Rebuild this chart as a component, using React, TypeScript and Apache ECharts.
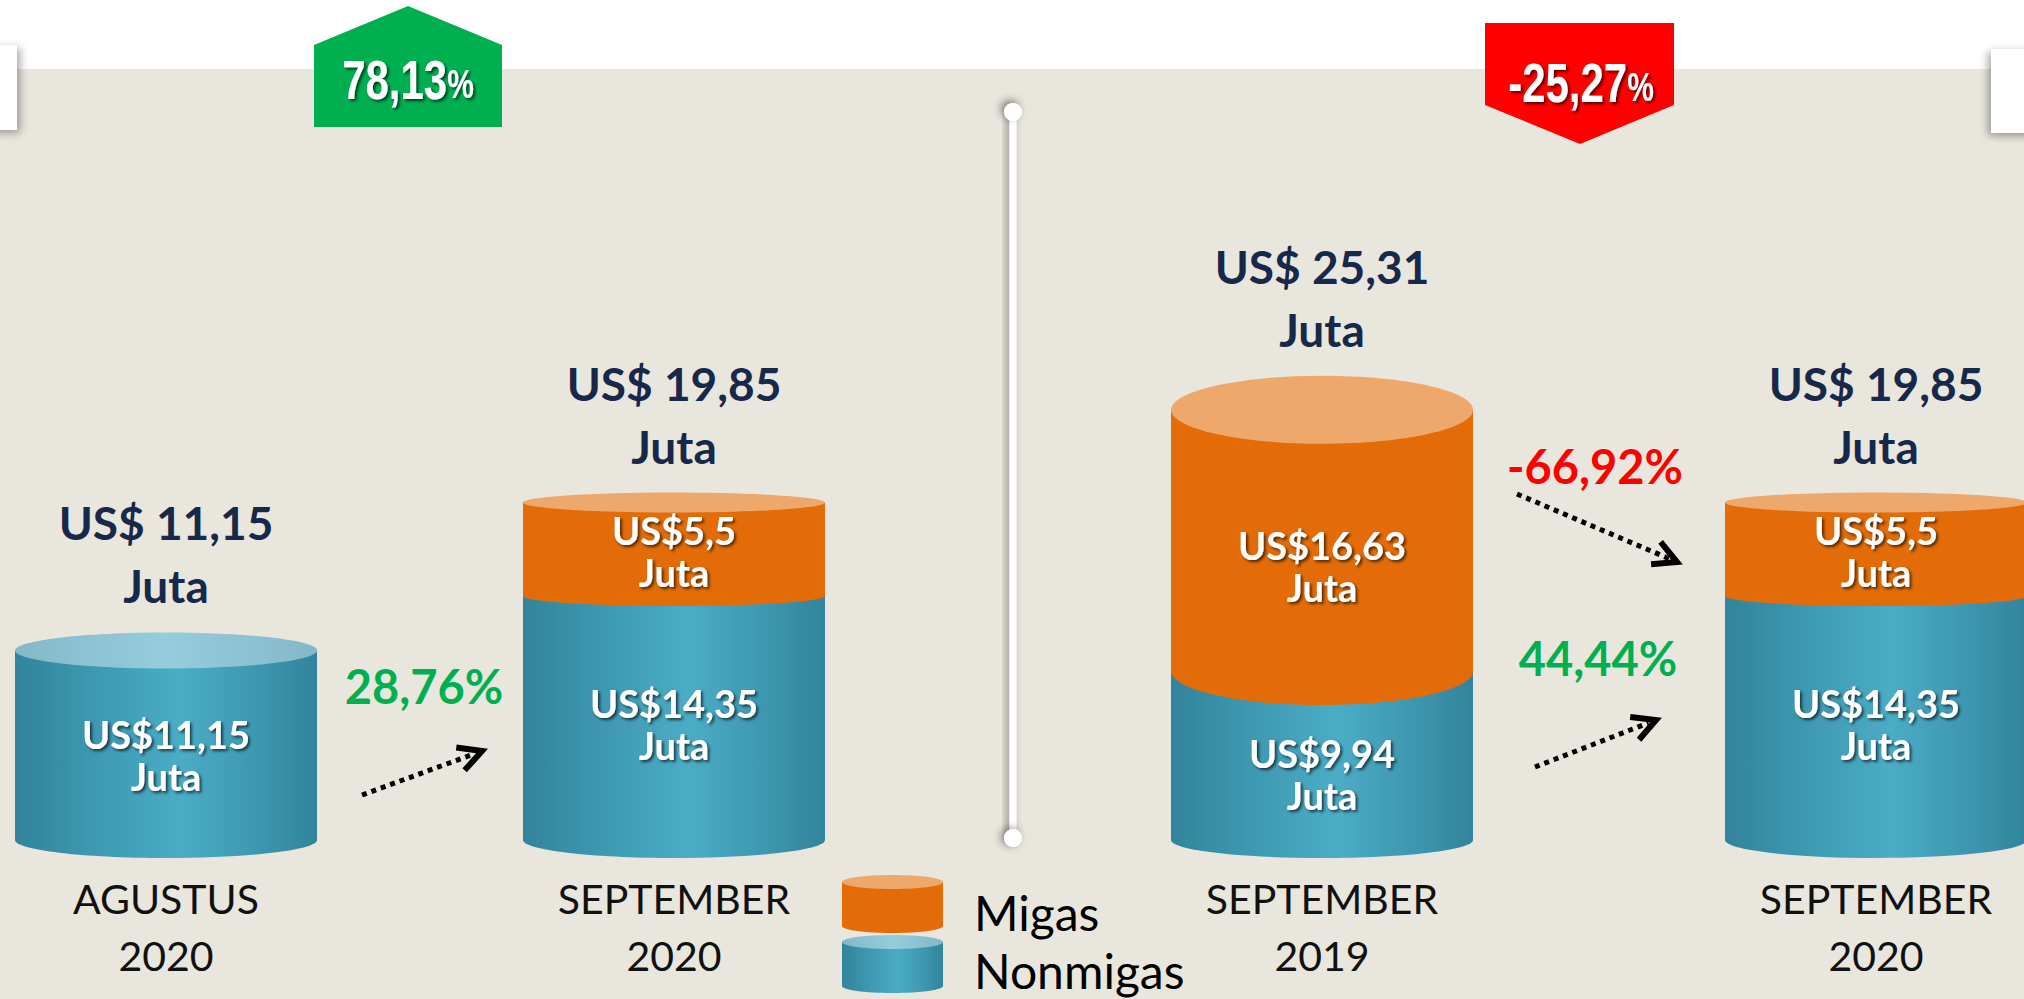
import React, { useEffect, useRef } from 'react';
import * as echarts from 'echarts';

// ---------- data ----------
const periods = ['AGUSTUS\n2020', 'SEPTEMBER\n2020', 'SEPTEMBER\n2019', 'SEPTEMBER\n2020'];
const nonmigas = [11.15, 14.35, 9.94, 14.35];
const migas = [0, 5.5, 16.63, 5.5];
const totals = [11.15, 19.85, 25.31, 19.85];
const headlineChanges = [78.13, -25.27];
const nonmigasChanges = [28.76, 44.44];
const migasChanges = [-66.92];
const legendNames = ['Migas', 'Nonmigas'];
const unit = 'Juta';

// ---------- styles ----------
const W = 2024;
const H = 999;
const R = 151;
const BASE_RY = 18;
const CAP_RY = [18, 10, 34, 10];
const BEIGE = '#E9E7DD';
const NAVY = '#17284A';
const GREEN = '#00B050';
const RED = '#FF0000';
const ORANGE = '#E36C09';
const ORANGE_TOP = '#EFA86C';
const FONT = 'Lato, "Open Sans", sans-serif';
const NARROW = '"Liberation Sans", Arial, sans-serif';

const fmt = (v: number) => String(v).replace('.', ',');

const blueGrad = () =>
  new echarts.graphic.LinearGradient(0, 0, 1, 0, [
    { offset: 0, color: '#31849B' },
    { offset: 0.25, color: '#3D97B0' },
    { offset: 0.55, color: '#4BACC6' },
    { offset: 0.8, color: '#3E97B0' },
    { offset: 1, color: '#31849B' },
  ]);
const blueTopGrad = () =>
  new echarts.graphic.LinearGradient(0, 0, 1, 0, [
    { offset: 0, color: '#84B8C8' },
    { offset: 0.5, color: '#95CDDD' },
    { offset: 1, color: '#84B8C8' },
  ]);

const whiteShadow = {
  textShadowColor: 'rgba(0,0,0,0.65)',
  textShadowBlur: 3,
  textShadowOffsetX: 2,
  textShadowOffsetY: 2,
};

function makeRender(offset: number) {
  return (params: any, api: any) => {
    const cat = api.value(0);
    const non = api.value(1);
    const tot = api.value(2);
    const i = offset + cat;
    const base = api.coord([cat, 0]);
    const mid = api.coord([cat, non]);
    const top = api.coord([cat, tot]);
    const cx = base[0];
    const ry = CAP_RY[i];
    const children: any[] = [];
    children.push({
      type: 'ellipse',
      shape: { cx, cy: base[1], rx: R, ry: BASE_RY },
      style: { fill: blueGrad() },
    });
    children.push({
      type: 'rect',
      shape: { x: cx - R, y: mid[1], width: 2 * R, height: base[1] - mid[1] },
      style: { fill: blueGrad() },
    });
    const hasMigas = migas[i] > 0;
    if (hasMigas) {
      children.push({
        type: 'rect',
        shape: { x: cx - R, y: top[1], width: 2 * R, height: mid[1] - top[1] },
        style: { fill: ORANGE },
      });
      children.push({
        type: 'ellipse',
        shape: { cx, cy: mid[1], rx: R, ry },
        style: { fill: ORANGE },
      });
      children.push({
        type: 'ellipse',
        shape: { cx, cy: top[1], rx: R, ry },
        style: { fill: ORANGE_TOP },
      });
    } else {
      children.push({
        type: 'ellipse',
        shape: { cx, cy: mid[1], rx: R, ry },
        style: { fill: blueTopGrad() },
      });
    }
    const innerFont = `bold 38px ${FONT}`;
    const blueCenter = (mid[1] + ry + base[1] + BASE_RY) / 2 - 8;
    children.push({
      type: 'text',
      x: cx,
      y: blueCenter,
      style: {
        text: `US$${fmt(nonmigas[i])}\n${unit}`,
        font: innerFont,
        fill: '#FFFFFF',
        lineHeight: 42,
        align: 'center',
        verticalAlign: 'middle',
        textAlign: 'center',
        textVerticalAlign: 'middle',
        ...whiteShadow,
      },
    });
    if (hasMigas) {
      const orCenter = (top[1] + ry + mid[1] + ry) / 2 - 8;
      children.push({
        type: 'text',
        x: cx,
        y: orCenter,
        style: {
          text: `US$${fmt(migas[i])}\n${unit}`,
          font: innerFont,
          fill: '#FFFFFF',
          lineHeight: 42,
          align: 'center',
          verticalAlign: 'middle',
          textAlign: 'center',
          textVerticalAlign: 'middle',
          ...whiteShadow,
        },
      });
    }
    children.push({
      type: 'text',
      x: cx,
      y: top[1] - ry - 78,
      style: {
        text: `US$ ${fmt(totals[i])}\n${unit}`,
        font: `bold 46px ${FONT}`,
        fill: NAVY,
        lineHeight: 63,
        align: 'center',
        verticalAlign: 'middle',
        textAlign: 'center',
        textVerticalAlign: 'middle',
      },
    });
    return { type: 'group', children };
  };
}

function arrow(x1: number, y1: number, x2: number, y2: number) {
  const dx = x2 - x1;
  const dy = y2 - y1;
  const len = Math.hypot(dx, dy);
  const ux = dx / len;
  const uy = dy / len;
  const L = 26;
  const a = (28 * Math.PI) / 180;
  const vx = -ux;
  const vy = -uy;
  const rot = (ang: number) => [vx * Math.cos(ang) - vy * Math.sin(ang), vx * Math.sin(ang) + vy * Math.cos(ang)];
  const r1 = rot(a);
  const r2 = rot(-a);
  return [
    {
      type: 'line',
      z: 10,
      shape: { x1, y1, x2: x2 - 8 * ux, y2: y2 - 8 * uy },
      style: { stroke: '#000', lineWidth: 5, lineDash: [5, 5] },
    },
    {
      type: 'polyline',
      z: 10,
      shape: {
        points: [
          [x2 + L * r1[0], y2 + L * r1[1]],
          [x2, y2],
          [x2 + L * r2[0], y2 + L * r2[1]],
        ],
      },
      style: { stroke: '#000', lineWidth: 6, fill: null, lineJoin: 'miter' },
    },
  ];
}

function pctText(v: number, x: number, y: number, color: string) {
  return {
    type: 'text',
    z: 10,
    x,
    y,
    style: {
      text: `${fmt(v)}%`,
      font: `bold 47px ${FONT}`,
      fill: color,
      align: 'center',
      verticalAlign: 'middle',
      textAlign: 'center',
      textVerticalAlign: 'middle',
    },
  };
}

function badgeText(v: number, x: number, y: number) {
  const richBase = { fill: '#FFFFFF', verticalAlign: 'bottom', ...whiteShadow };
  return {
    type: 'text',
    z: 6,
    x,
    y,
    scaleX: 0.75,
    style: {
      text: `{a|${fmt(v)}}{b|%}`,
      align: 'center',
      verticalAlign: 'middle',
      textAlign: 'center',
      textVerticalAlign: 'middle',
      rich: {
        a: { ...richBase, font: `bold 56px ${NARROW}` },
        b: { ...richBase, font: `bold 40px ${NARROW}`, padding: [0, 0, 3, 0] },
      },
    },
  };
}

function legendCylinder(y: number, side: any, topFill: any) {
  const cx = 892.5;
  const rx = 50.5;
  const ry = 7;
  const h = 44;
  return [
    { type: 'ellipse', z: 5, shape: { cx, cy: y + h, rx, ry }, style: { fill: side() } },
    { type: 'rect', z: 5, shape: { x: cx - rx, y, width: 2 * rx, height: h }, style: { fill: side() } },
    { type: 'ellipse', z: 5, shape: { cx, cy: y, rx, ry }, style: { fill: topFill() } },
  ];
}

export default function App() {
  const ref = useRef<HTMLDivElement>(null);
  useEffect(() => {
    if (!ref.current) return;
    const chart = echarts.init(ref.current, null, { renderer: 'svg' });
    const axisLabel = {
      interval: 0,
      margin: 30,
      fontFamily: FONT,
      fontSize: 41,
      color: '#111111',
      lineHeight: 57,
    };
    const graphics: any[] = [
      { type: 'rect', z: 0, shape: { x: 0, y: 69, width: W, height: H - 69 }, style: { fill: BEIGE } },
      {
        type: 'rect',
        z: 1,
        shape: { x: -10, y: 45, width: 27, height: 85 },
        style: { fill: '#FFFFFF', shadowBlur: 8, shadowColor: 'rgba(0,0,0,0.35)', shadowOffsetX: 3, shadowOffsetY: 3 },
      },
      {
        type: 'rect',
        z: 1,
        shape: { x: 1991, y: 49, width: 50, height: 84 },
        style: { fill: '#FFFFFF', shadowBlur: 8, shadowColor: 'rgba(0,0,0,0.35)', shadowOffsetX: -3, shadowOffsetY: 3 },
      },
      {
        type: 'rect',
        z: 1,
        shape: { x: 1009.5, y: 112, width: 7, height: 726 },
        style: { fill: '#FFFFFF', shadowBlur: 8, shadowColor: 'rgba(0,0,0,0.4)', shadowOffsetX: -3, shadowOffsetY: -2 },
      },
      {
        type: 'circle',
        z: 1,
        shape: { cx: 1013, cy: 112, r: 9 },
        style: { fill: '#FFFFFF', shadowBlur: 8, shadowColor: 'rgba(0,0,0,0.45)', shadowOffsetX: -3, shadowOffsetY: -3 },
      },
      {
        type: 'circle',
        z: 1,
        shape: { cx: 1013, cy: 838, r: 9 },
        style: { fill: '#FFFFFF', shadowBlur: 8, shadowColor: 'rgba(0,0,0,0.45)', shadowOffsetX: -3, shadowOffsetY: -1 },
      },
      {
        type: 'polygon',
        z: 5,
        shape: { points: [[314, 127], [314, 45], [408, 6], [502, 45], [502, 127]] },
        style: { fill: GREEN },
      },
      {
        type: 'polygon',
        z: 5,
        shape: { points: [[1485, 23], [1674, 23], [1674, 105], [1580, 144], [1485, 105]] },
        style: { fill: RED },
      },
      badgeText(headlineChanges[0], 408, 79),
      badgeText(headlineChanges[1], 1581, 82),
      pctText(nonmigasChanges[0], 424, 686, GREEN),
      pctText(migasChanges[0], 1595, 466, RED),
      pctText(nonmigasChanges[1], 1598, 658, GREEN),
      ...arrow(362, 795, 482, 751),
      ...arrow(1517, 494, 1677, 562),
      ...arrow(1535, 767, 1656, 720),
      ...legendCylinder(882, () => ORANGE, () => ORANGE_TOP),
      ...legendCylinder(942, blueGrad, blueTopGrad),
      {
        type: 'text',
        z: 5,
        x: 974,
        y: 912,
        style: { text: legendNames[0], font: `48px ${FONT}`, fill: '#000', align: 'left', verticalAlign: 'middle', textAlign: 'left', textVerticalAlign: 'middle' },
      },
      {
        type: 'text',
        z: 5,
        x: 974,
        y: 970,
        style: { text: legendNames[1], font: `48px ${FONT}`, fill: '#000', align: 'left', verticalAlign: 'middle', textAlign: 'left', textVerticalAlign: 'middle' },
      },
    ];

    const option: any = {
      animation: false,
      backgroundColor: '#FFFFFF',
      grid: [
        { left: 166, width: 508, top: 330, height: 510 },
        { left: 1322, width: 554, top: 330, height: 510 },
      ],
      xAxis: [
        { gridIndex: 0, type: 'category', boundaryGap: false, data: periods.slice(0, 2), axisLine: { show: false }, axisTick: { show: false }, splitLine: { show: false }, axisLabel },
        { gridIndex: 1, type: 'category', boundaryGap: false, data: periods.slice(2), axisLine: { show: false }, axisTick: { show: false }, splitLine: { show: false }, axisLabel },
      ],
      yAxis: [
        { gridIndex: 0, type: 'value', min: 0, max: 30, show: false },
        { gridIndex: 1, type: 'value', min: 0, max: 30, show: false },
      ],
      graphic: graphics,
      series: [
        {
          type: 'custom',
          xAxisIndex: 0,
          yAxisIndex: 0,
          clip: false,
          silent: true,
          z: 3,
          renderItem: makeRender(0),
          data: [0, 1].map((c) => [c, nonmigas[c], totals[c]]),
        },
        {
          type: 'custom',
          xAxisIndex: 1,
          yAxisIndex: 1,
          clip: false,
          silent: true,
          z: 3,
          renderItem: makeRender(2),
          data: [0, 1].map((c) => [c, nonmigas[c + 2], totals[c + 2]]),
        },
      ],
    };
    chart.setOption(option);
    return () => chart.dispose();
  }, []);
  return <div ref={ref} style={{ position: 'absolute', left: 0, top: 0, width: W, height: H }} />;
}
